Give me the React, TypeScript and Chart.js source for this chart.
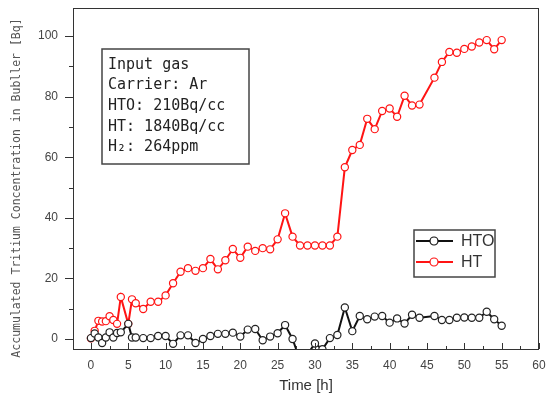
import React, { useEffect, useRef } from "react";
import { Chart, registerables } from "chart.js";

Chart.register(...registerables);

// ---- data ----
const times = [
  0, 0.5, 1, 1.5, 2, 2.5, 3, 3.5, 4, 5, 5.5, 6,
  7, 8, 9, 10, 11, 12, 13, 14, 15, 16, 17, 18, 19, 20, 21, 22, 23, 24, 25, 26,
  27, 28, 29, 30, 31, 32, 33, 34, 35, 36, 37, 38, 39, 40, 41, 42, 43, 44,
  46, 47, 48, 49, 50, 51, 52, 53, 54, 55,
];
const htValues = [
  0.2, 2.7, 6.0, 5.8, 5.9, 7.5, 6.3, 5.0, 13.9, 5.0, 13.1, 11.8,
  9.9, 12.3, 12.3, 14.4, 18.4, 22.2, 23.4, 22.5, 23.4, 26.4, 23.0, 26.0, 29.7, 26.8, 30.5, 29.1, 30.0, 29.6, 32.9, 41.5,
  33.8, 30.9, 30.9, 30.9, 30.9, 30.9, 33.8, 56.7, 62.4, 64.1, 72.7, 69.3, 75.3, 76.1, 73.4, 80.3, 77.1, 77.4,
  86.3, 91.5, 94.8, 94.5, 95.8, 96.6, 97.9, 98.7, 95.7, 98.7,
];
const htoValues = [
  0.3, 1.8, 0.5, -1.3, 0.5, 2.2, 0.5, 2.0, 2.2, 5.0, 0.5, 0.5,
  0.3, 0.3, 1.0, 1.0, -1.6, 1.2, 1.2, -1.3, 0.0, 1.0, 1.7, 1.7, 2.1, 0.8, 3.1, 3.3, -0.4, 0.8, 1.9, 4.6,
  0.0, -7.0, -5.0, -1.5, -3.4, 0.3, 1.3, 10.4, 2.6, 7.6, 6.5, 7.4, 7.6, 5.4, 6.8, 5.1, 8.0, 7.0,
  7.6, 6.3, 6.3, 7.0, 7.1, 7.0, 7.0, 9.0, 6.5, 4.4,
];
const xTickLabels = [0, 5, 10, 15, 20, 25, 30, 35, 40, 45, 50, 55, 60];
const yTickLabels = [0, 20, 40, 60, 80, 100];
const seriesNames = ["HTO", "HT"];
const infoLines = ["Input gas", "Carrier: Ar", "HTO: 210Bq/cc", "HT: 1840Bq/cc", "H\u2082: 264ppm"];
const yTitle = "Accumulated Tritium Concentration in Bubller [Bq]";
const xTitle = "Time [h]";

const RED = "#ff1414";
const BLACK = "#111111";

const zeroPad = (s: any) => {
  s.paddingTop = 0;
  s.paddingBottom = 0;
  s.paddingLeft = 0;
  s.paddingRight = 0;
};

const decorPlugin = {
  id: "decor",
  afterDraw(chart: any) {
    const { ctx, chartArea: a, scales } = chart;
    const xs = scales.x;
    const ys = scales.y;
    ctx.save();
    // frame
    ctx.strokeStyle = "#333";
    ctx.lineWidth = 1;
    ctx.strokeRect(a.left + 0.5, a.top + 0.5, a.right - a.left - 1, a.bottom - a.top);
    // x ticks (inside)
    ctx.beginPath();
    for (let v = 0; v <= 60; v += 2.5) {
      const px = Math.round(xs.getPixelForValue(v)) + 0.5;
      const len = v % 5 === 0 ? 6 : 3;
      ctx.moveTo(px, a.bottom);
      ctx.lineTo(px, a.bottom - len);
    }
    // y ticks (outside)
    for (let v = 0; v <= 100; v += 10) {
      const py = Math.round(ys.getPixelForValue(v)) + 0.5;
      const len = v % 20 === 0 ? 8 : 4;
      ctx.moveTo(a.left, py);
      ctx.lineTo(a.left - len, py);
    }
    ctx.stroke();

    // y title
    ctx.save();
    ctx.translate(17, 188);
    ctx.rotate(-Math.PI / 2);
    ctx.fillStyle = "#555";
    ctx.font = "11.5px 'DejaVu Sans Mono'";
    ctx.textAlign = "center";
    ctx.textBaseline = "middle";
    ctx.fillText(yTitle, 0, 0);
    ctx.restore();

    // info box
    ctx.fillStyle = "#fff";
    ctx.fillRect(102, 49, 147, 115);
    ctx.strokeStyle = "#444";
    ctx.lineWidth = 1.5;
    ctx.strokeRect(102, 49, 147, 115);
    ctx.fillStyle = "#222";
    ctx.font = "15px 'DejaVu Sans Mono'";
    ctx.textAlign = "left";
    ctx.textBaseline = "middle";
    const ly = [65, 85, 106, 127, 147];
    infoLines.forEach((t, i) => ctx.fillText(t, 108, ly[i]));

    // legend
    ctx.fillStyle = "#fff";
    ctx.fillRect(414, 230, 81, 47);
    ctx.strokeStyle = "#444";
    ctx.lineWidth = 1.5;
    ctx.strokeRect(414, 230, 81, 47);
    const colors = [BLACK, RED];
    const ry = [241, 262];
    seriesNames.forEach((name, i) => {
      ctx.strokeStyle = colors[i];
      ctx.lineWidth = 2;
      ctx.beginPath();
      ctx.moveTo(416, ry[i]);
      ctx.lineTo(453, ry[i]);
      ctx.stroke();
      ctx.beginPath();
      ctx.arc(434, ry[i], 4, 0, Math.PI * 2);
      ctx.fillStyle = "#fff";
      ctx.fill();
      ctx.lineWidth = 1.2;
      ctx.stroke();
      ctx.fillStyle = "#333";
      ctx.font = "16px 'Liberation Sans'";
      ctx.textAlign = "left";
      ctx.textBaseline = "middle";
      ctx.fillText(name, 461, ry[i] + 1);
    });
    ctx.restore();
  },
};

export default function App() {
  const ref = useRef<HTMLCanvasElement>(null);
  useEffect(() => {
    document.body.style.margin = "0";
    const canvas = ref.current!;
    const chart = new Chart(canvas, {
      type: "line",
      data: {
        datasets: [
          {
            label: seriesNames[0],
            data: times.map((t, i) => ({ x: t, y: htoValues[i] })),
            borderColor: BLACK,
            borderWidth: 2,
            pointRadius: 3.6,
            pointBorderWidth: 1.2,
            pointBorderColor: "#222",
            pointBackgroundColor: "#fff",
            tension: 0,
          },
          {
            label: seriesNames[1],
            data: times.map((t, i) => ({ x: t, y: htValues[i] })),
            borderColor: RED,
            borderWidth: 2,
            pointRadius: 3.6,
            pointBorderWidth: 1.2,
            pointBorderColor: RED,
            pointBackgroundColor: "#fff",
            tension: 0,
          },
        ],
      },
      plugins: [decorPlugin],
      options: {
        animation: false,
        responsive: false,
        devicePixelRatio: 1,
        layout: { padding: { top: 8, right: 10, left: 0, bottom: 0 } },
        plugins: { legend: { display: false }, tooltip: { enabled: false } },
        scales: {
          x: {
            type: "linear",
            min: -2.4,
            max: 60,
            afterBuildTicks: (s: any) => {
              s.ticks = xTickLabels.map((v) => ({ value: v }));
            },
            afterFit: (s: any) => {
              s.height = 50;
              zeroPad(s);
            },
            grid: { display: false, drawTicks: false },
            border: { display: false },
            ticks: {
              autoSkip: false,
              maxRotation: 0,
              padding: 9,
              color: "#444",
              font: { family: "'Liberation Sans'", size: 12 },
              callback: (v: any) => String(v),
            },
            title: {
              display: true,
              text: xTitle,
              color: "#333",
              font: { family: "'Liberation Sans'", size: 15 },
              padding: { top: 0, bottom: 4 },
            },
          },
          y: {
            type: "linear",
            min: -3.3,
            max: 109.3,
            afterBuildTicks: (s: any) => {
              s.ticks = yTickLabels.map((v) => ({ value: v }));
            },
            afterFit: (s: any) => {
              s.width = 73;
              zeroPad(s);
            },
            grid: { display: false, drawTicks: false },
            border: { display: false },
            ticks: {
              padding: 15,
              color: "#444",
              font: { family: "'Liberation Sans'", size: 12 },
              callback: (v: any) => String(v),
            },
          },
        },
      },
    });
    return () => chart.destroy();
  }, []);
  return <canvas ref={ref} width={549} height={399} style={{ display: "block" }} />;
}
